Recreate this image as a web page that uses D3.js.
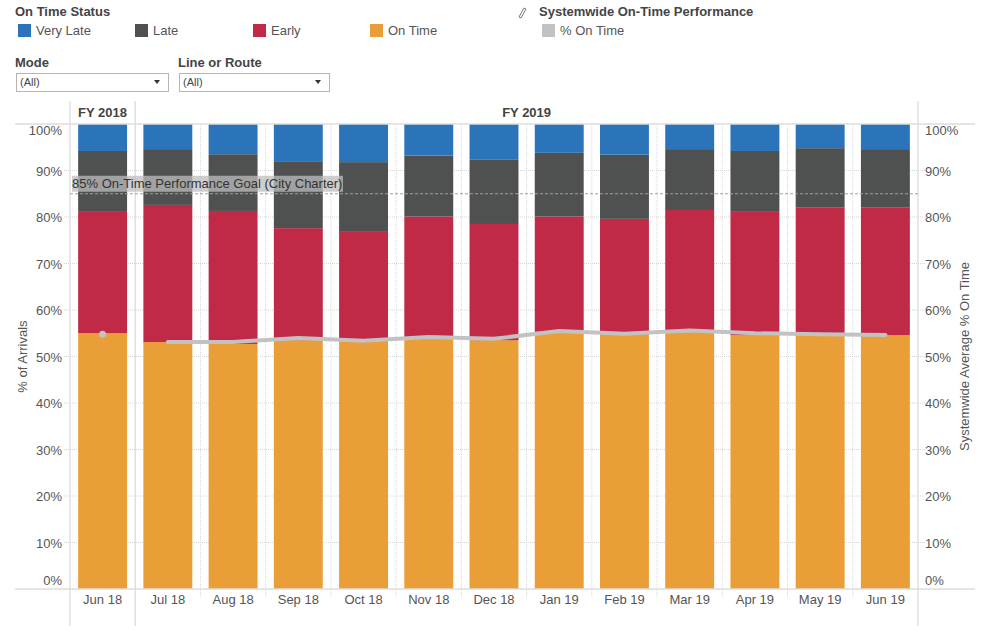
<!DOCTYPE html>
<html>
<head>
<meta charset="utf-8">
<script src="https://cdn.jsdelivr.net/npm/d3@7"></script>
<style>
  body { margin: 0; background: #fff; font-family: "Liberation Sans", Arial, sans-serif; }
  svg text { font-family: "Liberation Sans", Arial, sans-serif; }
</style>
</head>
<body>
<svg id="chart" width="1000" height="639"></svg>
<script>
// Data
const months = ['Jun 18', 'Jul 18', 'Aug 18', 'Sep 18', 'Oct 18', 'Nov 18', 'Dec 18',
  'Jan 19', 'Feb 19', 'Mar 19', 'Apr 19', 'May 19', 'Jun 19'];
const fiscalYears = ['FY 2018', 'FY 2019', 'FY 2019', 'FY 2019', 'FY 2019', 'FY 2019', 'FY 2019',
  'FY 2019', 'FY 2019', 'FY 2019', 'FY 2019', 'FY 2019', 'FY 2019'];
const onTime   = [55.0, 53.1, 52.7, 53.5, 53.3, 54.0, 53.5, 55.3, 54.8, 55.3, 54.6, 54.6, 54.6];
const early    = [26.1, 29.5, 28.6, 24.1, 23.5, 26.1, 25.0, 24.8, 24.8, 26.2, 26.5, 27.4, 27.4];
const late     = [13.1, 12.0, 12.2, 14.4, 15.0, 13.1, 13.8, 13.7, 13.8, 13.1, 13.1, 12.8, 12.6];
const veryLate = [5.8, 5.4, 6.5, 8.0, 8.2, 6.8, 7.7, 6.2, 6.6, 5.4, 5.8, 5.2, 5.4];
const systemwide = [54.8, 53.1, 53.1, 54.0, 53.4, 54.2, 53.8, 55.5, 54.9, 55.6, 55.0, 54.8, 54.6];
const yTicks = [0, 10, 20, 30, 40, 50, 60, 70, 80, 90, 100];
const goal = 85;

const statusKeys = ['On Time', 'Early', 'Late', 'Very Late'];
const statusColor = { 'Very Late': '#2b74b9', 'Late': '#4e5150', 'Early': '#c02a46', 'On Time': '#e99e37' };
const lineColor = '#c2c2c2';

const rows = months.map((m, i) => ({
  month: m, fy: fiscalYears[i],
  'On Time': onTime[i], 'Early': early[i], 'Late': late[i], 'Very Late': veryLate[i],
  sys: systemwide[i]
}));

const svg = d3.select('#chart');
const plotLeft = 70, plotRight = 918, plotTop = 124, plotBottom = 589;

const x = d3.scaleBand().domain(months).range([plotLeft, plotRight])
  .paddingInner(0.25).paddingOuter(0.125);
const y = d3.scaleLinear().domain([0, 100]).range([plotBottom, plotTop]);
const step = x.step();

// Legend
const txt = '#555';
svg.append('text').attr('x', 15).attr('y', 16).attr('font-size', 13).attr('font-weight', 'bold')
  .attr('fill', '#444').text('On Time Status');
const legendItems = ['Very Late', 'Late', 'Early', 'On Time'];
const legendX = [18, 135, 253, 370];
legendItems.forEach((k, i) => {
  svg.append('rect').attr('x', legendX[i]).attr('y', 24).attr('width', 13).attr('height', 13)
    .attr('fill', statusColor[k]);
  svg.append('text').attr('x', legendX[i] + 18).attr('y', 35).attr('font-size', 13)
    .attr('fill', txt).text(k);
});

// pencil icon
svg.append('path').attr('d', 'M519,17 L524,8 L526,9 L521,18 Z').attr('fill', 'none')
  .attr('stroke', '#777').attr('stroke-width', 1);
svg.append('text').attr('x', 539).attr('y', 16).attr('font-size', 13).attr('font-weight', 'bold')
  .attr('fill', '#444').text('Systemwide On-Time Performance');
svg.append('rect').attr('x', 542).attr('y', 24).attr('width', 13).attr('height', 13).attr('fill', lineColor);
svg.append('text').attr('x', 560).attr('y', 35).attr('font-size', 13).attr('fill', txt).text('% On Time');

// Filters
const filters = [{ label: 'Mode', x: 16, w: 152 }, { label: 'Line or Route', x: 179, w: 150 }];
filters.forEach(f => {
  svg.append('text').attr('x', f.x - 1).attr('y', 67).attr('font-size', 13).attr('font-weight', 'bold')
    .attr('fill', '#444').text(f.label);
  svg.append('rect').attr('x', f.x + 0.5).attr('y', 73.5).attr('width', f.w).attr('height', 18)
    .attr('fill', '#fff').attr('stroke', '#b5b5b5');
  svg.append('text').attr('x', f.x + 4).attr('y', 86).attr('font-size', 11).attr('fill', '#444').text('(All)');
  const tx = f.x + f.w - 14;
  svg.append('path').attr('d', `M${tx},80 L${tx + 6},80 L${tx + 3},84 Z`).attr('fill', '#333');
});

// Horizontal gridlines (dotted)
svg.append('g').selectAll('line').data(yTicks.filter(t => t > 0 && t < 100)).enter().append('line')
  .attr('x1', 64).attr('x2', 925)
  .attr('y1', d => y(d)).attr('y2', d => y(d))
  .attr('stroke', '#d6d6d6').attr('stroke-dasharray', '1,1');

// Vertical dotted gridlines between months
svg.append('g').selectAll('line').data(months.slice(2)).enter().append('line')
  .attr('x1', d => x(d) - step * 0.125).attr('x2', d => x(d) - step * 0.125)
  .attr('y1', plotTop).attr('y2', plotBottom + 8)
  .attr('stroke', '#d6d6d6').attr('stroke-dasharray', '1,1');

// Bars
const stack = d3.stack().keys(statusKeys)(rows);
svg.append('g').selectAll('g').data(stack).enter().append('g')
  .attr('fill', d => statusColor[d.key])
  .selectAll('rect').data(d => d).enter().append('rect')
  .attr('x', d => x(d.data.month))
  .attr('width', x.bandwidth())
  .attr('y', d => y(d[1]))
  .attr('height', d => y(d[0]) - y(d[1]));

// Panel frame lines
svg.append('line').attr('x1', 15).attr('x2', 975).attr('y1', plotTop).attr('y2', plotTop)
  .attr('stroke', '#dcdcdc').attr('stroke-width', 1.5);
svg.append('line').attr('x1', 15).attr('x2', 975).attr('y1', plotBottom).attr('y2', plotBottom)
  .attr('stroke', '#dcdcdc').attr('stroke-width', 1.5);
[plotLeft, plotLeft + step, plotRight].forEach(v => {
  svg.append('line').attr('x1', v).attr('x2', v).attr('y1', 101).attr('y2', 626)
    .attr('stroke', '#d9d9d9').attr('stroke-width', 1.2);
});

// Header
svg.append('text').attr('x', 78).attr('y', 117).attr('font-size', 13).attr('font-weight', 'bold')
  .attr('fill', '#444').text(fiscalYears[0]);
svg.append('text').attr('x', (plotLeft + step + plotRight) / 2).attr('y', 117).attr('font-size', 13)
  .attr('font-weight', 'bold').attr('text-anchor', 'middle').attr('fill', '#444').text(fiscalYears[1]);

// Goal reference line
svg.append('line').attr('x1', plotLeft).attr('x2', plotRight).attr('y1', y(goal)).attr('y2', y(goal))
  .attr('stroke', '#a0a0a0').attr('stroke-dasharray', '3,2');
svg.append('rect').attr('x', 72).attr('y', y(goal) - 18).attr('width', 271).attr('height', 16)
  .attr('fill', '#bdbdbd').attr('opacity', 0.75);
svg.append('text').attr('x', 72).attr('y', y(goal) - 5.5).attr('font-size', 13).attr('fill', '#333')
  .text('85% On-Time Performance Goal (City Charter)');

// Systemwide line: FY2018 is a lone point, FY2019 a line
const cx = d => x(d.month) + x.bandwidth() / 2;
svg.append('path').datum(rows.filter(d => d.fy === 'FY 2019'))
  .attr('fill', 'none').attr('stroke', lineColor).attr('stroke-width', 4)
  .attr('stroke-linecap', 'round').attr('stroke-linejoin', 'round')
  .attr('d', d3.line().x(cx).y(d => y(d.sys)));
svg.append('g').selectAll('circle').data(rows.filter(d => d.fy === 'FY 2018')).enter().append('circle')
  .attr('cx', cx).attr('cy', d => y(d.sys)).attr('r', 3.5).attr('fill', lineColor);

// Axes
const fmt = d => d + '%';
const yl = svg.append('g').attr('transform', `translate(${plotLeft - 8},0)`)
  .call(d3.axisLeft(y).tickValues(yTicks).tickFormat(fmt).tickSize(0));
const yr = svg.append('g').attr('transform', `translate(${plotRight + 7},0)`)
  .call(d3.axisRight(y).tickValues(yTicks).tickFormat(fmt).tickSize(0));
[yl, yr].forEach(g => {
  g.select('.domain').remove();
  g.selectAll('text').attr('font-size', 13).attr('fill', txt).attr('x', 0)
    .attr('dy', '0.35em')
    .attr('y', d => d === 100 ? 6 : d === 0 ? -9 : 0);
});

const xa = svg.append('g').attr('transform', `translate(0,${plotBottom})`)
  .call(d3.axisBottom(x).tickSize(0));
xa.select('.domain').remove();
xa.selectAll('text').attr('font-size', 13).attr('fill', txt).attr('dy', '0.75em').attr('y', 5);

// Axis titles
svg.append('text').attr('transform', `translate(27,${(plotTop + plotBottom) / 2}) rotate(-90)`)
  .attr('text-anchor', 'middle').attr('font-size', 13).attr('fill', txt).text('% of Arrivals');
svg.append('text').attr('transform', `translate(969,${(plotTop + plotBottom) / 2}) rotate(-90)`)
  .attr('text-anchor', 'middle').attr('font-size', 13).attr('fill', txt).text('Systemwide Average % On Time');
</script>
</body>
</html>
